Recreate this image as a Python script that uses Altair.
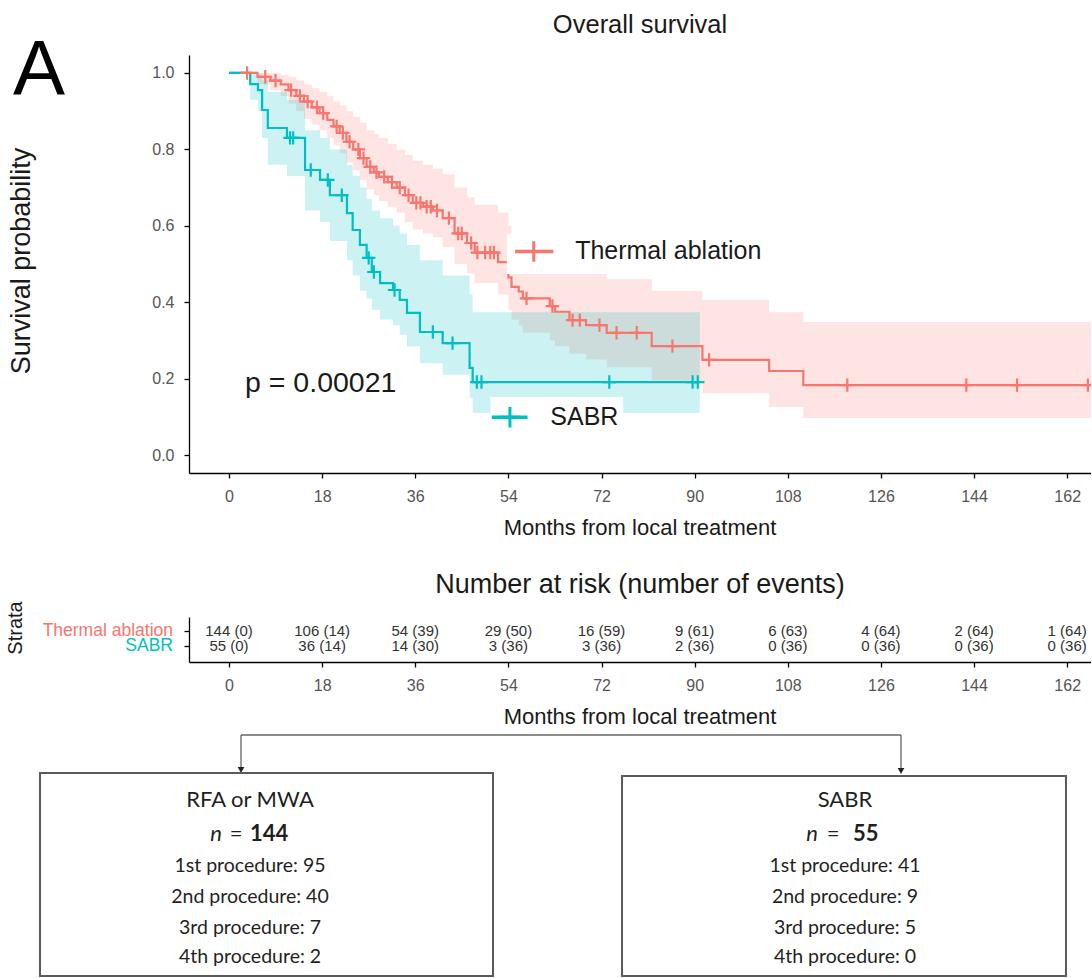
import altair as alt
import pandas as pd

# ---------------- fonts ----------------
REG = "Liberation Sans, Arial, sans-serif"
FLOWFONT = "Lato, Carlito, Calibri, sans-serif"

# ---------------- data ----------------
groups = ["Thermal ablation", "SABR"]
group_colors = ["#F8766D", "#00BFC4"]
x_ticks = [0, 18, 36, 54, 72, 90, 108, 126, 144, 162]
y_ticks = [0.0, 0.2, 0.4, 0.6, 0.8, 1.0]

# Thermal ablation Kaplan-Meier steps
ta_time = [0, 5.5, 8, 10, 11.5, 13, 14.5, 16, 17.5, 19,
           20.2, 21.4, 22.7, 24, 25.3, 26.6, 28, 29, 30.7, 32.4,
           34, 35.5, 37.5, 39.4, 41.3, 43.6, 46, 47.5, 52, 54,
           54.6, 56, 56.8, 62, 63, 65.8, 69, 73, 81.7, 91.5,
           104.4, 111]
ta_surv = [1.0, 0.99, 0.98, 0.97, 0.955, 0.94, 0.925, 0.91, 0.895, 0.877,
           0.86, 0.843, 0.82, 0.80, 0.777, 0.754, 0.74, 0.728, 0.714, 0.70,
           0.68, 0.66, 0.65, 0.64, 0.62, 0.58, 0.555, 0.53, 0.505, 0.465,
           0.44, 0.428, 0.41, 0.39, 0.375, 0.353, 0.34, 0.32, 0.285, 0.249,
           0.22, 0.183]
ta_lower = [1.0, 0.97, 0.955, 0.94, 0.92, 0.90, 0.88, 0.865, 0.85, 0.83,
            0.81, 0.79, 0.765, 0.745, 0.72, 0.695, 0.68, 0.665, 0.65, 0.635,
            0.61, 0.59, 0.58, 0.57, 0.545, 0.50, 0.475, 0.45, 0.42, 0.38,
            0.355, 0.34, 0.32, 0.30, 0.285, 0.265, 0.25, 0.23, 0.195, 0.162,
            0.126, 0.097]
ta_upper = [1.0, 1.0, 1.0, 0.995, 0.99, 0.98, 0.97, 0.96, 0.95, 0.94,
            0.925, 0.915, 0.90, 0.885, 0.87, 0.85, 0.84, 0.83, 0.815, 0.80,
            0.785, 0.77, 0.76, 0.75, 0.735, 0.70, 0.675, 0.655, 0.635, 0.60,
            0.575, 0.565, 0.545, 0.525, 0.51, 0.49, 0.475, 0.46, 0.43, 0.406,
            0.374, 0.348]
ta_last_follow_up = 172
ta_censor_time = [3.5, 7, 9, 12, 13.7, 15.2, 17, 18.2, 20.8, 22, 23.3, 25, 26,
                  27.3, 28.5, 30, 31.5, 33, 34.7, 36.2, 37, 38.2, 39, 40.2,
                  42.5, 44.3, 45, 46.8, 48, 49.5, 50.5, 51.2, 57.5, 62.5, 66.4,
                  67.8, 71.6, 74.9, 78.8, 85.7, 92.8, 119.5, 142.5, 152.3, 166]

# SABR Kaplan-Meier steps
sabr_time = [0, 4.1, 5.6, 6.4, 7.5, 11.2, 14.7, 17.6, 19.5, 22.8, 23.9,
             25.3, 26.6, 27.6, 29.2, 31.7, 33.0, 34.4, 36.9, 41.3, 46.5, 47.1]
sabr_surv = [1.0, 0.971, 0.955, 0.903, 0.856, 0.83, 0.746, 0.72, 0.68, 0.633,
             0.589, 0.55, 0.516, 0.479, 0.45, 0.432, 0.406, 0.372, 0.322,
             0.293, 0.228, 0.191]
sabr_lower = [1.0, 0.93, 0.90, 0.83, 0.76, 0.73, 0.64, 0.61, 0.56, 0.51, 0.47,
              0.43, 0.41, 0.38, 0.355, 0.34, 0.315, 0.285, 0.24, 0.21, 0.15, 0.11]
sabr_upper = [1.0, 1.0, 1.0, 0.98, 0.95, 0.93, 0.85, 0.83, 0.80, 0.76, 0.73,
              0.70, 0.67, 0.64, 0.62, 0.60, 0.58, 0.55, 0.51, 0.47, 0.42, 0.374]
sabr_last_follow_up = 91
sabr_censor_time = [11.8, 12.4, 15.8, 19.1, 21.8, 27.0, 28.0, 32.0, 39.4,
                    43.2, 47.9, 48.8, 73.5, 89.6, 90.6]

p_value_label = "p = 0.00021"

# Number at risk (number of events)
risk_ta = ["144 (0)", "106 (14)", "54 (39)", "29 (50)", "16 (59)", "9 (61)",
           "6 (63)", "4 (64)", "2 (64)", "1 (64)"]
risk_sabr = ["55 (0)", "36 (14)", "14 (30)", "3 (36)", "3 (36)", "2 (36)",
             "0 (36)", "0 (36)", "0 (36)", "0 (36)"]

# Flow chart
box_titles = ["RFA or MWA", "SABR"]
box_n = ["144", "55"]
procedure_names = ["1st procedure", "2nd procedure", "3rd procedure", "4th procedure"]
rfa_procedures = [95, 40, 7, 2]
sabr_procedures = [41, 9, 5, 0]

# ---------------- layout ----------------
PLOT_W = 902
KM_H = 418
TAB_H = 45
FLOW_H = 170
GAP = 144
X_DOMAIN = [-7.73, 166.6]
Y_DOMAIN = [-0.047, 1.047]
TAB_DOMAIN = [-0.933, 2.067]
FLOW_X = [189, 1091]
FLOW_Y = [806, 976]

legend_layout = pd.DataFrame({
    "group": groups,
    "bx1": [53.7, 50.5], "bx2": [105.0, 76.2],
    "by1": [0.579, 0.152], "by2": [0.474, 0.058],
    "sx1": [55.3, 50.8], "sx2": [62.7, 57.7], "sxc": [58.9, 54.3],
    "tx": [66.9, 62.1], "ty": [0.533, 0.099],
})

box_center = [250, 845]
box_left = [40, 622]
box_right = [493, 1066]
box_top = [773, 776]
box_bottom = [976, 976]
title_y = 800
n_y = 834
proc_y = [866, 897, 928, 957]
n_right = [222, 818]
eq_center = [236, 833]
val_left = [250, 853]

# ---------------- tables ----------------
def curve_rows(name, times, surv, lower, upper, end):
    rows = [dict(group=name, t=t, s=s, lo=l, hi=u)
            for t, s, l, u in zip(times, surv, lower, upper)]
    rows.append(dict(group=name, t=end, s=surv[-1], lo=lower[-1], hi=upper[-1]))
    return rows

def level_at(times, surv, t):
    v = surv[0]
    for tt, ss in zip(times, surv):
        if tt <= t:
            v = ss
    return v

curve_df = pd.DataFrame(
    curve_rows(groups[0], ta_time, ta_surv, ta_lower, ta_upper, ta_last_follow_up)
    + curve_rows(groups[1], sabr_time, sabr_surv, sabr_lower, sabr_upper, sabr_last_follow_up)
)
censor_df = pd.DataFrame(
    [dict(group=groups[0], t=t, s=level_at(ta_time, ta_surv, t)) for t in ta_censor_time]
    + [dict(group=groups[1], t=t, s=level_at(sabr_time, sabr_surv, t)) for t in sabr_censor_time]
)
risk_df = pd.DataFrame(
    [dict(group=groups[0], row=0, t=t, label=l) for t, l in zip(x_ticks, risk_ta)]
    + [dict(group=groups[1], row=1, t=t, label=l) for t, l in zip(x_ticks, risk_sabr)]
)
strata_df = pd.DataFrame({"group": groups, "row": [0, 1]})
p_df = pd.DataFrame({"t": [3.1], "s": [0.188], "label": [p_value_label]})
one = pd.DataFrame({"a": [0]})

# ---------------- scales / axes ----------------
xs = alt.Scale(domain=X_DOMAIN, nice=False, zero=False)
ys = alt.Scale(domain=Y_DOMAIN, nice=False, zero=False)
cs = alt.Scale(domain=groups, range=group_colors)

xaxis = alt.Axis(values=x_ticks, labelFont=REG, labelFontSize=16,
                 labelColor="#555555", tickSize=5, labelPadding=10,
                 domainColor="black", tickColor="black", domainWidth=1.3,
                 tickWidth=1.3, grid=False, title=None, labelOverlap=False)
yaxis = alt.Axis(values=y_ticks, format=".1f", labelFont=REG, labelFontSize=16,
                 labelColor="#555555", tickSize=5, labelPadding=10,
                 domainColor="black", tickColor="black", domainWidth=1.3,
                 tickWidth=1.3, grid=False, title=None, labelOverlap=False)

CROSS = "M-1,0L1,0M0,-1L0,1"

def ann(text, x, y, size, font=REG, angle=0, align="center", baseline="middle",
        color="#1a1a1a"):
    m = alt.Chart(one).mark_text(text=text, font=font, fontSize=size, angle=angle,
                                 align=align, baseline=baseline, color=color)
    return m.encode(x=alt.value(x), y=alt.value(y))

# ---------------- KM chart ----------------
band = alt.Chart(curve_df).mark_area(interpolate="step-after", opacity=0.2, clip=True).encode(
    x=alt.X("t:Q", scale=xs, axis=xaxis),
    y=alt.Y("lo:Q", scale=ys, axis=yaxis),
    y2="hi:Q",
    color=alt.Color("group:N", scale=cs, legend=None),
)
line = alt.Chart(curve_df).mark_line(interpolate="step-after", strokeWidth=2.2, clip=True).encode(
    x=alt.X("t:Q", scale=xs, axis=xaxis),
    y=alt.Y("s:Q", scale=ys, axis=yaxis),
    color=alt.Color("group:N", scale=cs, legend=None),
)
cens = alt.Chart(censor_df).mark_point(shape=CROSS, size=180, filled=False,
                                       strokeWidth=2.2, opacity=1, clip=True).encode(
    x=alt.X("t:Q", scale=xs, axis=xaxis),
    y=alt.Y("s:Q", scale=ys, axis=yaxis),
    color=alt.Color("group:N", scale=cs, legend=None),
)
leg_box = alt.Chart(legend_layout).mark_rect(color="white").encode(
    x=alt.X("bx1:Q", scale=xs, axis=xaxis), x2="bx2:Q",
    y=alt.Y("by1:Q", scale=ys, axis=yaxis), y2="by2:Q",
)
leg_line = alt.Chart(legend_layout).mark_rule(strokeWidth=3.5).encode(
    x=alt.X("sx1:Q", scale=xs, axis=xaxis), x2="sx2:Q",
    y=alt.Y("ty:Q", scale=ys, axis=yaxis),
    color=alt.Color("group:N", scale=cs, legend=None),
)
leg_cross = alt.Chart(legend_layout).mark_point(shape=CROSS, size=420, filled=False,
                                                strokeWidth=3, opacity=1).encode(
    x=alt.X("sxc:Q", scale=xs, axis=xaxis),
    y=alt.Y("ty:Q", scale=ys, axis=yaxis),
    color=alt.Color("group:N", scale=cs, legend=None),
)
leg_text = alt.Chart(legend_layout).mark_text(align="left", baseline="middle", font=REG,
                                              fontSize=25, color="#1a1a1a").encode(
    x=alt.X("tx:Q", scale=xs, axis=xaxis),
    y=alt.Y("ty:Q", scale=ys, axis=yaxis),
    text="group:N",
)
p_text = alt.Chart(p_df).mark_text(align="left", baseline="middle", font=REG,
                                   fontSize=28.5, color="#1a1a1a").encode(
    x=alt.X("t:Q", scale=xs, axis=xaxis),
    y=alt.Y("s:Q", scale=ys, axis=yaxis),
    text="label:N",
)
# invisible anchor fixing the page origin
anchor = alt.Chart(one).mark_rule(color="white", strokeWidth=1).encode(
    x=alt.value(-188.5), x2=alt.value(-150), y=alt.value(-54.5))

km = alt.layer(
    band, line, cens, leg_box, leg_line, leg_cross, leg_text, p_text, anchor,
    ann("A", -176, 40, 78, align="left", baseline="alphabetic", color="black"),
    ann("Overall survival", PLOT_W / 2, -30, 25.5),
    ann("Survival probability", -167, 206, 27, angle=270),
    ann("Months from local treatment", PLOT_W / 2, KM_H + 55, 22),
).properties(width=PLOT_W, height=KM_H)

# ---------------- risk table ----------------
tys = alt.Scale(domain=TAB_DOMAIN, reverse=True, nice=False, zero=False)
tyaxis = alt.Axis(values=[0, 1], labels=False, tickSize=5, domainColor="black",
                  tickColor="black", domainWidth=1.3, tickWidth=1.3, grid=False,
                  title=None)
risk_text = alt.Chart(risk_df).mark_text(font=REG, fontSize=15, color="#333333",
                                         baseline="middle").encode(
    x=alt.X("t:Q", scale=xs, axis=xaxis),
    y=alt.Y("row:Q", scale=tys, axis=tyaxis),
    text="label:N",
)
strata_text = alt.Chart(strata_df).mark_text(font=REG, fontSize=17.5, align="right",
                                             baseline="middle").encode(
    x=alt.value(-16),
    y=alt.Y("row:Q", scale=tys, axis=tyaxis),
    text="group:N",
    color=alt.Color("group:N", scale=cs, legend=None),
)
table = alt.layer(
    risk_text, strata_text,
    ann("Number at risk (number of events)", PLOT_W / 2, -32, 27),
    ann("Strata", -173, 11, 20, angle=270),
    ann("Months from local treatment", PLOT_W / 2, TAB_H + 55, 22),
).properties(width=PLOT_W, height=TAB_H)

# ---------------- flow chart ----------------
fxs = alt.Scale(domain=FLOW_X, nice=False, zero=False)
fys = alt.Scale(domain=FLOW_Y, reverse=True, nice=False, zero=False)

conn_df = pd.DataFrame({
    "x": [241, 241, 901],
    "x2": [901, 241, 901],
    "y": [735, 735, 735],
    "y2": [735, 768, 769],
})
arrow_df = pd.DataFrame({"x": [241, 901], "y": [770, 771]})
box_df = pd.DataFrame({"x": box_left, "x2": box_right, "y": box_top, "y2": box_bottom})

lines = []
for i, counts in enumerate([rfa_procedures, sabr_procedures]):
    for name, c, yy in zip(procedure_names, counts, proc_y):
        lines.append(dict(x=box_center[i], y=yy, label=f"{name}: {c}"))
proc_df = pd.DataFrame(lines)
title_df = pd.DataFrame({"x": box_center, "y": [title_y, title_y], "label": box_titles})
n_italic_df = pd.DataFrame({"x": n_right, "y": [n_y, n_y], "label": ["n", "n"]})
n_eq_df = pd.DataFrame({"x": eq_center, "y": [n_y, n_y], "label": ["=", "="]})
n_val_df = pd.DataFrame({"x": val_left, "y": [n_y, n_y], "label": box_n})

def fx(f="x:Q"):
    return alt.X(f, scale=fxs, axis=None)

def fy(f="y:Q"):
    return alt.Y(f, scale=fys, axis=None)

flow = alt.layer(
    alt.Chart(conn_df).mark_rule(color="#666666", strokeWidth=1.3).encode(
        x=fx(), x2="x2:Q", y=fy(), y2="y2:Q"),
    alt.Chart(arrow_df).mark_point(shape="triangle-down", filled=True, size=45,
                                   color="#222222", opacity=1).encode(x=fx(), y=fy()),
    alt.Chart(box_df).mark_rect(fill="white", stroke="#5a5a5a", strokeWidth=2).encode(
        x=fx(), x2="x2:Q", y=fy(), y2="y2:Q"),
    alt.Chart(title_df).mark_text(font=FLOWFONT, fontSize=22, color="#1f1f1f",
                                  baseline="middle").encode(x=fx(), y=fy(), text="label:N"),
    alt.Chart(n_italic_df).mark_text(font=FLOWFONT, fontSize=22, fontStyle="italic",
                                     color="#1f1f1f", baseline="middle", align="right").encode(
        x=fx(), y=fy(), text="label:N"),
    alt.Chart(n_eq_df).mark_text(font=FLOWFONT, fontSize=22, color="#1f1f1f",
                                 baseline="middle", align="center").encode(
        x=fx(), y=fy(), text="label:N"),
    alt.Chart(n_val_df).mark_text(font=FLOWFONT, fontSize=22, fontWeight="bold",
                                  color="#1f1f1f", baseline="middle", align="left").encode(
        x=fx(), y=fy(), text="label:N"),
    alt.Chart(proc_df).mark_text(font=FLOWFONT, fontSize=19.5, color="#1f1f1f",
                                 baseline="middle").encode(x=fx(), y=fy(), text="label:N"),
).properties(width=PLOT_W, height=FLOW_H)

chart = alt.vconcat(km, table, flow, spacing=GAP, bounds="flush").properties(
    padding=0, background="white"
).configure_view(stroke=None)

chart.save("out.html", embed_options={"renderer": "svg", "actions": False})
